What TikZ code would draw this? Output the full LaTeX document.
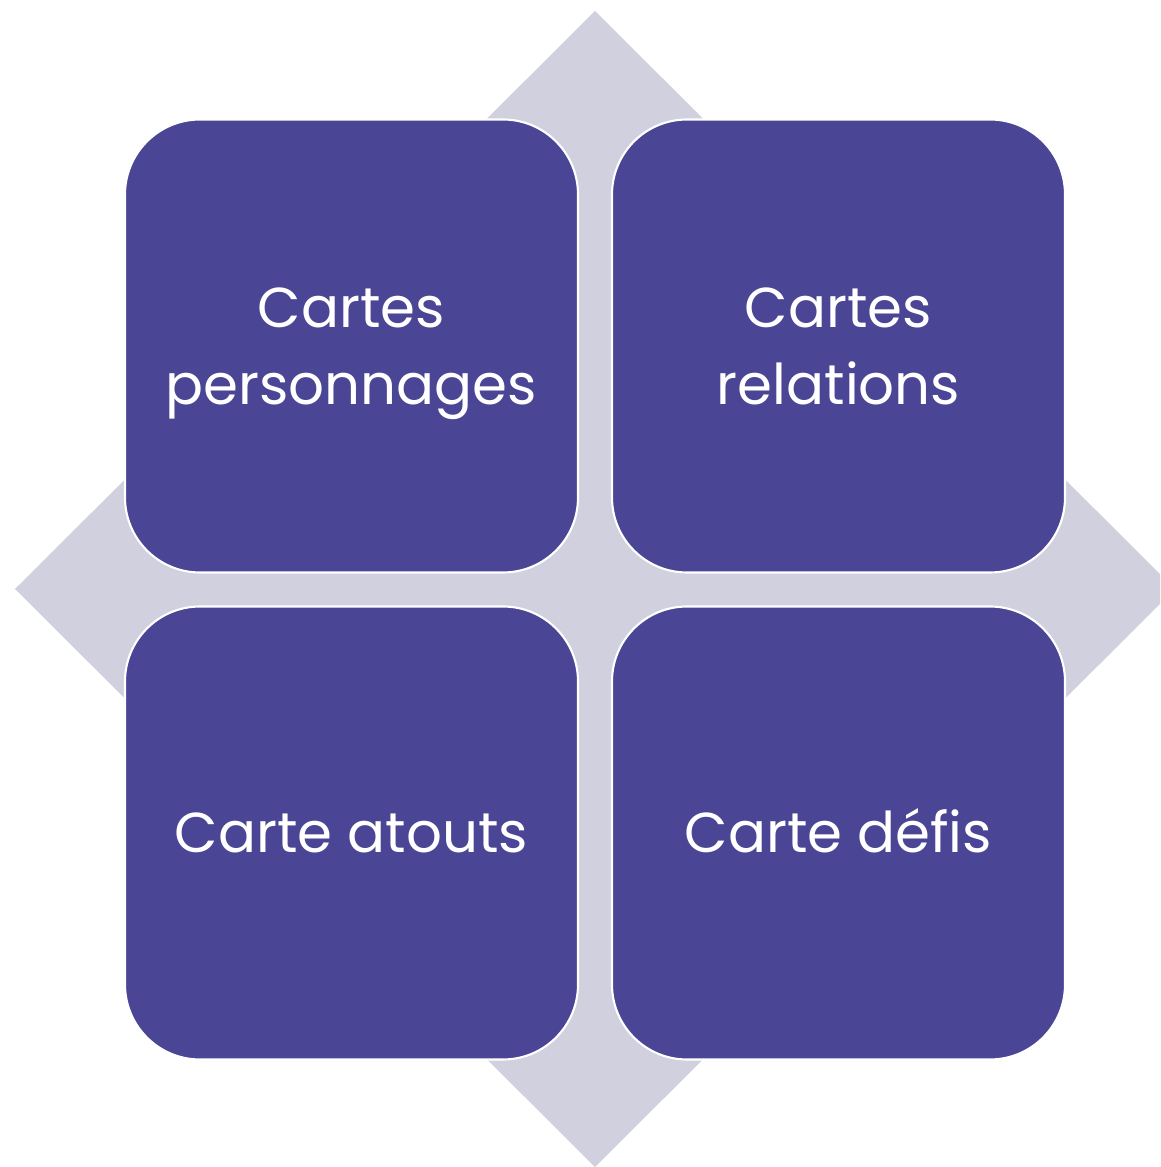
\documentclass[tikz,border=0pt]{standalone}
\usepackage{fontspec}
\setmainfont{Poppins}
\usepackage{tikz}

\definecolor{cartefond}{HTML}{4A4594}
\definecolor{losange}{HTML}{D0D0DF}

\begin{document}
\begin{tikzpicture}[x=1cm, y=1cm,
	carte/.style={draw=white, line width=0.6pt, rounded corners=0.75cm, minimum size=4.53cm, inner sep=0pt, fill=cartefond, text=white, align=center, text depth=0pt, font=\fontsize{16}{21.9}\selectfont},
	uneligne/.style={text height=1.1em}]
	\useasboundingbox (-5.95,-5.78) rectangle (5.65,5.89);

	\begin{scope}
		\clip (-5.95,-5.78) rectangle (5.65,5.89);
		\fill[losange] (0,5.78) -- (5.80,0) -- (0,-5.78) -- (-5.80,0) -- cycle;
	\end{scope}

	\node[carte] (perso) at (-2.435,2.43) {Cartes\\personnages};
	\node[carte] (rel) at (2.435,2.43) {Cartes\\relations};
	\node[carte, uneligne] (atouts) at (-2.435,-2.44) {Carte atouts};
	\node[carte, uneligne] (defis) at (2.435,-2.44) {Carte défis};
\end{tikzpicture}
\end{document}
